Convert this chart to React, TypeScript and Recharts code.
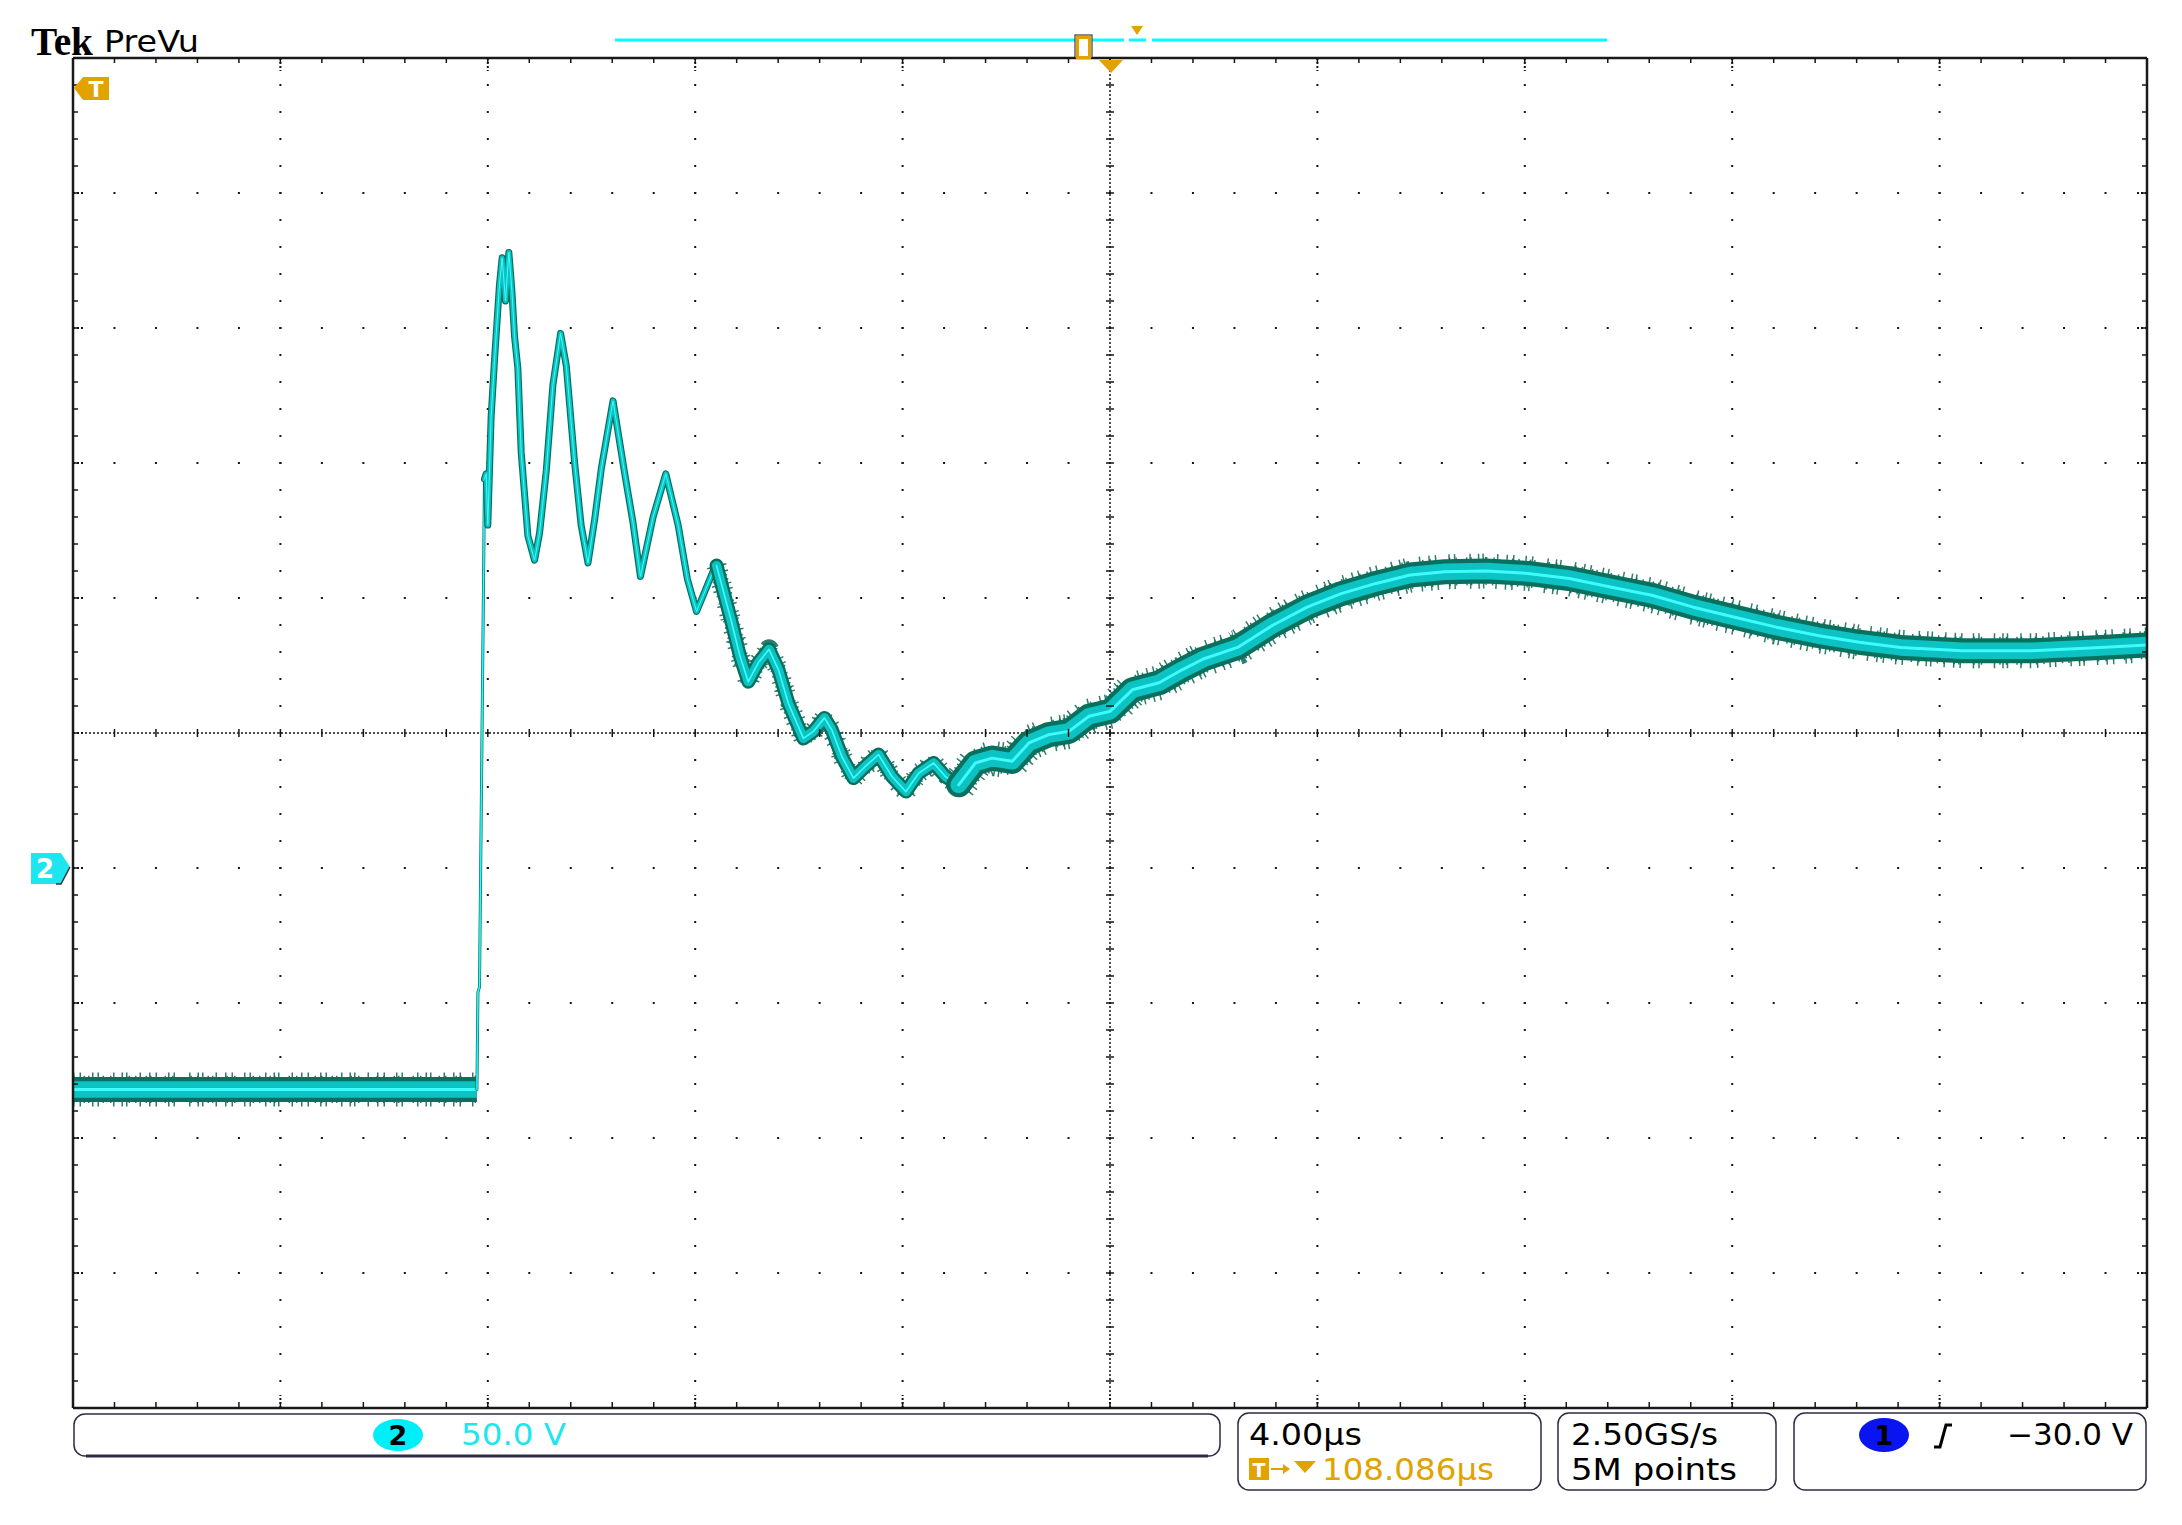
import React from 'react';
import { ComposedChart, Line, Scatter, XAxis, YAxis, ReferenceLine } from 'recharts';

const W = 2182;
const H = 1525;

// scope graticule: 4 µs/div (time relative to trigger), ch2 50 V/div, ground one div below centre
const majorTimes = [-20, -16, -12, -8, -4, 0, 4, 8, 12, 16, 20];
const majorVolts = [-200, -150, -100, -50, 0, 50, 100, 150, 200, 250, 300];
const minorTimes = majorTimes
  .slice(0, -1)
  .flatMap((t) => [0, 0.8, 1.6, 2.4, 3.2].map((d) => +(t + d).toFixed(1)))
  .concat(20);
const minorVolts = majorVolts
  .slice(0, -1)
  .flatMap((v) => [0, 10, 20, 30, 40].map((d) => v + d))
  .concat(300);

// ch2 trace
const baseT = [-20, -16, -12.21];
const baseV = [-82, -82, -82];

const edgeT = [-12.21, -12.19, -12.16, -12.08, -12.064];
const edgeV = [-82, -46, -44, 111, 144];

const ringT = [
  -12.064, -12.032, -12.0, -11.936, -11.871, -11.775, -11.723, -11.659, -11.594, -11.536,
  -11.485, -11.42, -11.356, -11.227, -11.098, -11.002, -10.873, -10.744, -10.596, -10.486,
  -10.325, -10.2, -10.068, -9.94, -9.81, -9.585, -9.359, -9.2, -9.056, -8.812,
  -8.567, -8.329, -8.15, -7.974, -7.78, -7.588,
];
const ringV = [
  144, 146, 127, 167, 188, 216, 226, 210, 228, 214,
  197, 185, 154, 123, 114, 124, 147, 179, 198, 186,
  150, 127, 113, 129, 148, 173, 146, 128, 108, 130,
  146, 127, 107, 95, 104, 113,
];

const decayT = [
  -7.588, -7.298, -7.137, -6.976, -6.783, -6.577, -6.396, -6.203, -5.913, -5.72,
  -5.507, -5.366, -5.172, -4.947, -4.721, -4.464, -4.206, -3.936, -3.691, -3.401,
  -3.176, -2.918,
];
const decayV = [
  112, 91, 78.5, 69, 76, 81, 73.5, 61, 48, 50.6,
  55.6, 51.2, 41.3, 33.3, 37.6, 42, 33.9, 28.3, 35.1, 38.9,
  33.9, 30.8,
];

const tailT = [
  -2.918, -2.596, -2.274, -1.887, -1.565, -1.179, -0.792, -0.406, 0, 0.431,
  0.947, 1.398, 1.8, 2.46, 3.13, 3.8, 4.46, 5.13, 5.79, 6.46,
  7.26, 8.06, 8.86, 9.65, 10.45, 11.25, 12.05, 12.85, 13.65, 14.45,
  15.25, 16.44, 17.78, 19.11, 20,
];
const tailV = [
  30.8, 38.9, 40.7, 39.5, 46.3, 49.4, 50.6, 56.2, 58, 66,
  68.6, 73.5, 77.4, 81.7, 89.8, 96.6, 101.6, 105.4, 108.5, 109.7,
  110, 109.1, 107.2, 104.1, 101, 96.6, 92.9, 89.2, 86.1, 83.6,
  81.7, 80.5, 80.5, 81.7, 82.6,
];

const toPts = (ts: number[], vs: number[]) => ts.map((t, i) => ({ t, v: vs[i] }));

const segments = [
  { id: 'base', pts: toPts(baseT, baseV), w: 25, fuzz: 34, cap: 'butt' },
  { id: 'edge', pts: toPts(edgeT, edgeV), w: 3, fuzz: 0, cap: 'round' },
  { id: 'ring', pts: toPts(ringT, ringV), w: 7, fuzz: 0, cap: 'round' },
  { id: 'decay', pts: toPts(decayT, decayV), w: 14, fuzz: 20, cap: 'round' },
  { id: 'tail', pts: toPts(tailT, tailV), w: 25, fuzz: 35, cap: 'round' },
];

const layers = [
  { id: 'outer', color: '#08705c', k: 1 },
  { id: 'body', color: '#0cc2c2', k: 0.66 },
  { id: 'core', color: '#3ffcfc', k: 0.12 },
];

// two irregular hair patterns so the noise spikes don't look periodic
const fuzzLayers = [
  { id: 'fa', dash: '1.5 5 1.5 11 1.5 4 1.5 14 1.5 7 1.5 3 1.5 12 1.5 8', k: 1 },
  { id: 'fb', dash: '1.5 9 1.5 3 1.5 13 1.5 6 1.5 17 1.5 5', k: 0.8 },
];

const INK = '#151515';
const ORANGE = '#e2a200';
const CYAN = '#1ee6f0';
const BOX = '#2c2c44';

const rowTicks = minorTimes.map((t) => ({ t, v: 50 }));
const colTicks = minorVolts.map((v) => ({ t: 0, v }));
const botTicks = minorTimes.map((t) => ({ t, v: -200 }));
const topTicks = minorTimes.map((t) => ({ t, v: 300 }));
const leftTicks = minorVolts.map((v) => ({ t: -20, v }));
const rightTicks = minorVolts.map((v) => ({ t: 20, v }));
const botMajor = majorTimes.map((t) => ({ t, v: -200 }));
const topMajor = majorTimes.map((t) => ({ t, v: 300 }));
const leftMajor = majorVolts.map((v) => ({ t: -20, v }));
const rightMajor = majorVolts.map((v) => ({ t: 20, v }));

const tickShape = (dx: number, dy: number, dash?: string) => (p: any) => (
  <line x1={p.cx} y1={p.cy} x2={p.cx + dx} y2={p.cy + dy} stroke={INK}
    strokeWidth={dash ? 2 : 1.5} strokeDasharray={dash} />
);
const crossShape = (hx: number, hy: number) => (p: any) => (
  <line x1={p.cx - hx} y1={p.cy - hy} x2={p.cx + hx} y2={p.cy + hy} stroke={INK} strokeWidth={1.5} />
);

const Overlay = () => {
  const txt = { fontFamily: 'DejaVu Sans', fontSize: 30, lengthAdjust: 'spacingAndGlyphs' as const };
  return (
    <svg width={W} height={H} style={{ position: 'absolute', left: 0, top: 0 }}>
      {/* header */}
      <text x={31} y={55} fontFamily="Liberation Serif" fontWeight="bold" fontSize={41}
        textLength={62} lengthAdjust="spacingAndGlyphs" fill="#000">Tek</text>
      <text x={104} y={52} {...txt} fontSize={31} textLength={95} fill="#000">PreVu</text>

      {/* record view bar */}
      <line x1={615} y1={40} x2={1124} y2={40} stroke="#00ffff" strokeWidth={3} />
      <line x1={1129} y1={40} x2={1146} y2={40} stroke="#00ffff" strokeWidth={3} />
      <line x1={1152} y1={40} x2={1607} y2={40} stroke="#00ffff" strokeWidth={3} />
      <rect x={1075} y={35} width={17} height={23} fill="#fff" stroke={INK} strokeWidth={1} />
      <rect x={1077.5} y={37.5} width={12} height={20} fill="none" stroke={ORANGE} strokeWidth={3} />
      <polygon points="1131,26 1143,26 1137,35" fill={ORANGE} />

      {/* trigger position marker */}
      <polygon points="1099,60 1123,60 1111,73" fill={ORANGE} />

      {/* trigger level flag */}
      <polygon points="74,88 83,77 109,77 109,100 83,100" fill={ORANGE} />
      <text x={96} y={97} textAnchor="middle" fontFamily="DejaVu Sans" fontWeight="bold"
        fontSize={22} fill="#fff">T</text>

      {/* ch2 ground marker */}
      <polygon points="31,853 61,853 70,867 61,884 31,884" fill={CYAN} />
      <polyline points="70,867 61,884 56,884" fill="none" stroke="#333" strokeWidth={1.5} />
      <text x={45} y={878} textAnchor="middle" fontFamily="DejaVu Sans" fontWeight="bold"
        fontSize={26} fill="#fff">2</text>

      {/* readout: channel 2 */}
      <rect x={74} y={1414} width={1146} height={42} rx={11} fill="none" stroke={BOX} strokeWidth={1.5} />
      <line x1={86} y1={1456} x2={1208} y2={1456} stroke={BOX} strokeWidth={3} />
      <ellipse cx={398} cy={1435} rx={25} ry={16} fill="#00eef8" />
      <text x={398} y={1445} textAnchor="middle" fontFamily="DejaVu Sans" fontWeight="bold"
        fontSize={27} fill="#000">2</text>
      <text x={461} y={1445} {...txt} textLength={105} fill={CYAN}>50.0 V</text>

      {/* readout: horizontal */}
      <rect x={1238} y={1413} width={303} height={77} rx={11} fill="none" stroke={BOX} strokeWidth={1.5} />
      <text x={1249} y={1445} {...txt} textLength={113} fill="#000">4.00µs</text>
      <rect x={1249} y={1458} width={20} height={22} fill={ORANGE} />
      <text x={1259} y={1477} textAnchor="middle" fontFamily="DejaVu Sans" fontWeight="bold"
        fontSize={19} fill="#fff">T</text>
      <line x1={1271} y1={1469} x2={1285} y2={1469} stroke={ORANGE} strokeWidth={2} />
      <polygon points="1283,1464 1290,1469 1283,1474" fill={ORANGE} />
      <polygon points="1294,1461 1316,1461 1305,1473" fill={ORANGE} />
      <text x={1322} y={1480} {...txt} textLength={172} fill={ORANGE}>108.086µs</text>

      {/* readout: acquisition */}
      <rect x={1558} y={1413} width={218} height={77} rx={11} fill="none" stroke={BOX} strokeWidth={1.5} />
      <text x={1571} y={1445} {...txt} textLength={147} fill="#000">2.50GS/s</text>
      <text x={1571} y={1480} {...txt} textLength={166} fill="#000">5M points</text>

      {/* readout: trigger */}
      <rect x={1794} y={1413} width={352} height={77} rx={11} fill="none" stroke={BOX} strokeWidth={1.5} />
      <ellipse cx={1884} cy={1435} rx={25} ry={17} fill="#0a14f0" />
      <text x={1884} y={1445} textAnchor="middle" fontFamily="DejaVu Sans" fontWeight="bold"
        fontSize={27} fill="#000">1</text>
      <polyline points="1934,1447 1940,1447 1946,1425 1952,1425" fill="none" stroke="#000" strokeWidth={3} />
      <text x={2007} y={1445} {...txt} textLength={126} fill="#000">−30.0 V</text>
    </svg>
  );
};

const App = () => {
  const ax = { xAxisId: 'x', yAxisId: 'y' };
  const scat = (data: any[], shape: any, key: string) => (
    <Scatter key={key} {...ax} data={data} isAnimationActive={false} shape={shape} />
  );
  return (
    <div style={{ position: 'relative', width: W, height: H, margin: '-8px 0 0 -8px', background: '#fff' }}>
      <ComposedChart width={W} height={H} margin={{ top: 58, right: 35, bottom: 117, left: 73 }}>
        <XAxis xAxisId="x" type="number" dataKey="t" domain={[-20, 20]} allowDataOverflow hide />
        <YAxis yAxisId="y" type="number" dataKey="v" domain={[-200, 300]} allowDataOverflow hide />

        {majorTimes.filter((t) => t !== 0 && Math.abs(t) !== 20).map((t) => (
          <ReferenceLine key={`gx${t}`} {...ax} x={t} stroke={INK}
            strokeWidth={2} strokeDasharray="2 25" strokeDashoffset={1} />
        ))}
        {majorVolts.filter((v) => v !== 50 && v !== -200 && v !== 300).map((v) => (
          <ReferenceLine key={`gy${v}`} {...ax} y={v} stroke={INK}
            strokeWidth={2} strokeDasharray="2 39.48" strokeDashoffset={1} />
        ))}
        <ReferenceLine {...ax} x={0} stroke={INK} strokeWidth={1.5} strokeDasharray="2 2" />
        <ReferenceLine {...ax} y={50} stroke={INK} strokeWidth={1.5} strokeDasharray="2 2" />
        {scat(rowTicks, crossShape(0, 4), 'row')}
        {scat(colTicks, crossShape(4, 0), 'col')}

        {/* frame with minor and major edge ticks */}
        {scat(botTicks, tickShape(0, -6), 'bt')}
        {scat(topTicks, tickShape(0, 5), 'tt')}
        {scat(leftTicks, tickShape(5, 0), 'lt')}
        {scat(rightTicks, tickShape(-5, 0), 'rt')}
        {scat(botMajor, tickShape(0, -13, '2 2'), 'bm')}
        {scat(topMajor, tickShape(0, 13, '2 2'), 'tm')}
        {scat(leftMajor, tickShape(10, 0, '2 2'), 'lm')}
        {scat(rightMajor, tickShape(-10, 0, '2 2'), 'rm')}

        {segments.filter((s) => s.fuzz > 0).flatMap((seg) =>
          fuzzLayers.map((f) => (
            <Line key={`${seg.id}-${f.id}`} {...ax} data={seg.pts} dataKey="v" type="linear"
              dot={false} activeDot={false} isAnimationActive={false} stroke="#0a6652"
              strokeOpacity={0.85} strokeWidth={seg.fuzz * f.k} strokeLinecap="butt"
              strokeLinejoin="round" strokeDasharray={f.dash} />
          ))
        )}
        {segments.flatMap((seg) =>
          layers.map((l) => (
            <Line key={`${seg.id}-${l.id}`} {...ax} data={seg.pts} dataKey="v"
              type="linear" dot={false} activeDot={false} isAnimationActive={false}
              stroke={l.color} strokeWidth={Math.max(1, seg.w * l.k)}
              strokeLinecap={seg.cap as any} strokeLinejoin="round" />
          ))
        )}

        <ReferenceLine {...ax} x={-20} stroke="#1a1a1a" strokeWidth={2.5} />
        <ReferenceLine {...ax} x={20} stroke="#1a1a1a" strokeWidth={2.5} />
        <ReferenceLine {...ax} y={-200} stroke="#1a1a1a" strokeWidth={2.5} />
        <ReferenceLine {...ax} y={300} stroke="#1a1a1a" strokeWidth={2.5} />
      </ComposedChart>
      <Overlay />
    </div>
  );
};

export default App;
